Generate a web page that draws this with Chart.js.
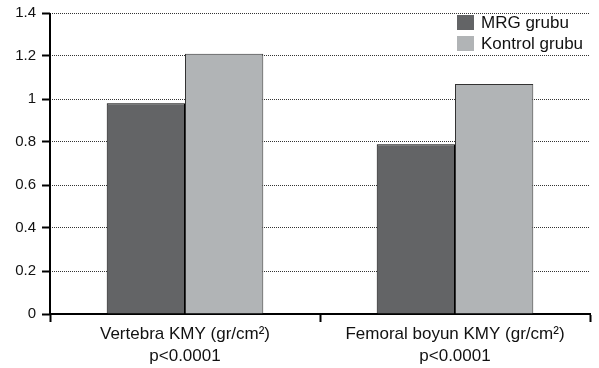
<!DOCTYPE html>
<html>
<head>
<meta charset="utf-8">
<script src="https://cdn.jsdelivr.net/npm/chart.js@4"></script>
<style>
  html, body { margin: 0; padding: 0; background: #fff; }
  #wrap { width: 599px; height: 368px; position: relative; }
</style>
</head>
<body>
<div id="wrap"><canvas id="c" width="599" height="368"></canvas></div>
<script>
const categories = [
  ["Vertebra KMY (gr/cm²)", "p<0.0001"],
  ["Femoral boyun KMY (gr/cm²)", "p<0.0001"]
];
const seriesNames = ["MRG grubu", "Kontrol grubu"];
const mrgValues = [0.98, 0.79];
const kontrolValues = [1.21, 1.07];
const yTicks = [0, 0.2, 0.4, 0.6, 0.8, 1, 1.2, 1.4];

const FONT = '"Liberation Sans", Arial, Helvetica, sans-serif';

const legendPlugin = {
  id: 'boxLegend',
  afterDraw(chart) {
    const ctx = chart.ctx;
    const x0 = 457, boxW = 17, boxH = 15;
    const rows = [15, 36];
    ctx.save();
    chart.data.datasets.forEach((ds, i) => {
      const y = rows[i];
      ctx.fillStyle = ds.backgroundColor;
      ctx.fillRect(x0, y, boxW, boxH);
      ctx.fillStyle = '#111';
      ctx.font = '17px ' + FONT;
      ctx.textBaseline = 'middle';
      ctx.textAlign = 'left';
      ctx.fillText(ds.label, x0 + 24, y + boxH / 2 + 0.5);
    });
    ctx.restore();
  }
};

const yAxisLine = {
  id: 'yAxisLine',
  afterDatasetsDraw(chart) {
    const y = chart.scales.y;
    const ctx = chart.ctx;
    ctx.save();
    ctx.strokeStyle = '#000';
    ctx.lineWidth = 2;
    ctx.setLineDash([]);
    ctx.beginPath();
    ctx.moveTo(y.right, y.top);
    ctx.lineTo(y.right, y.bottom);
    ctx.stroke();
    ctx.restore();
  }
};

new Chart(document.getElementById('c'), {
  type: 'bar',
  data: {
    labels: categories,
    datasets: [
      { label: seriesNames[0], data: mrgValues, backgroundColor: '#636466', borderColor: '#000', borderWidth: 1 },
      { label: seriesNames[1], data: kontrolValues, backgroundColor: '#b1b4b6', borderColor: '#333', borderWidth: 1 }
    ]
  },
  options: {
    responsive: false,
    animation: false,
    devicePixelRatio: 1,
    layout: { padding: { top: 13, right: 9, left: 0, bottom: 0 } },
    plugins: { legend: { display: false }, tooltip: { enabled: false } },
    datasets: { bar: { categoryPercentage: 0.58, barPercentage: 1.0 } },
    scales: {
      x: {
        afterFit(scale) { scale.height = 54; },
        grid: {
          display: true, offset: true, drawOnChartArea: false, drawTicks: true,
          tickLength: 8, tickColor: '#000', tickWidth: 2, color: '#000'
        },
        border: { display: true, color: '#000', width: 2 },
        ticks: {
          color: '#111', padding: 2,
          font: { family: FONT, size: 17, lineHeight: 1.25 }
        }
      },
      y: {
        min: 0, max: 1.4,
        afterFit(scale) { scale.width = 50; scale.paddingTop = 0; scale.paddingBottom = 0; },
        afterBuildTicks(scale) { scale.ticks = yTicks.map(v => ({ value: v })); },
        grid: {
          display: true, drawOnChartArea: true, drawTicks: true,
          tickLength: 8, tickColor: '#000', tickWidth: 2, lineWidth: 1,
          tickBorderDash: [],
          color: (c) => (c.tick && c.tick.value === 0) ? 'rgba(0,0,0,0)' : '#333'
        },
        border: { display: false, dash: [1, 1] },
        ticks: {
          color: '#111', padding: 6,
          font: { family: FONT, size: 15 },
          callback: (v) => String(Math.round(v * 10) / 10)
        }
      }
    }
  },
  plugins: [legendPlugin, yAxisLine]
});
</script>
</body>
</html>
